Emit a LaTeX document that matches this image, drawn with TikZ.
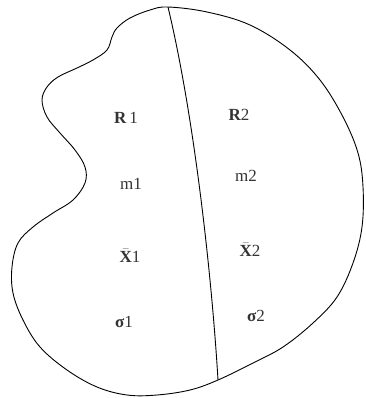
\documentclass[tikz,border=0pt]{standalone}
\usepackage{fontspec}
\setmainfont{Liberation Serif}
\usepackage{tikz}

\begin{document}
\begin{tikzpicture}[x=1pt, y=-1pt, line width=0.9pt,
  every node/.style={font=\fontsize{17}{19}\selectfont, text=black!80}]

\useasboundingbox (0,0) rectangle (365,398);

% Outline of the region
\draw[smooth cycle, tension=0.6] plot coordinates {
  (168,7) (207,12) (250,25) (290,50) (320,80) (343,117) (358,153)
  (363,187) (362,227) (353,263) (337,297) (313,323) (283,347)
  (253,363) (218,380) (190,390) (157,395) (127,395) (97,387)
  (67,370) (40,347) (23,320) (13,293) (12,267) (18,243) (33,227)
  (53,213) (73,200) (85,183) (85,167) (75,150) (60,133) (47,117)
  (42,100) (47,87) (58,77) (77,68) (93,60) (107,50) (112,37)
  (117,28) (130,18) (150,10)};

% Dividing line
\coordinate (top) at (168,7);
\coordinate (bot) at (218,380);
\draw (top) .. controls (195,120) and (212,280) .. (bot);

% Part 1
\node (r1) at (126,118) {\textbf{R}\,1};
\node (m1) at (131,184) {m1};
\node (xbar1) at (130,256) {$\bar{\textbf{X}}$1};
\node (sigma1) at (124,322) {\textbf{σ}1};

% Part 2
\node (r2) at (239,115) {\textbf{R}2};
\node (m2) at (246,176) {m2};
\node (xbar2) at (250,250) {$\bar{\textbf{X}}$2};
\node (sigma2) at (256,316) {\textbf{σ}2};

\end{tikzpicture}
\end{document}
